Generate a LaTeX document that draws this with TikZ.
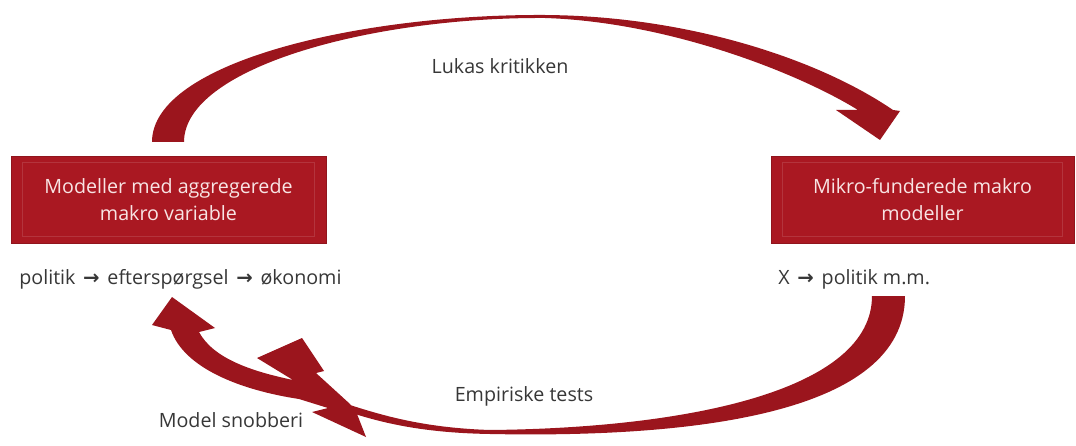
\documentclass[tikz,border=0pt]{standalone}
\usepackage{fontspec}
\usepackage{xcolor}
\usepackage{tikz}
\usetikzlibrary{calc}

\setmainfont{Open Sans}
\newfontfamily\arrowfont{DejaVu Sans}
\newcommand{\pil}{\hspace{1.5pt}{\arrowfont\bfseries →}\hspace{1.5pt}}

\definecolor{boxred}{RGB}{170,24,34}
\definecolor{arrowred}{RGB}{155,21,29}
\definecolor{boxtext}{RGB}{248,228,228}
\definecolor{labeltext}{RGB}{55,55,55}

\begin{document}
\begin{tikzpicture}[x=0.02cm,y=-0.02cm,
    modelbox/.style={fill=boxred, draw=boxred!85!black, line width=0.4pt,
        minimum height=1.74cm, align=center, text=boxtext, inner sep=0pt,
        font=\fontsize{11.2}{15.4}\selectfont},
    innerframe/.style={draw=boxred!88!white, line width=0.5pt},
    remark/.style={text=labeltext, inner sep=0pt, font=\fontsize{11.2}{15.4}\selectfont},
    ribbon/.style={fill=arrowred, draw=none}]

        \useasboundingbox (0,0) rectangle (1076,446);

        % Draw boxes
        \node[modelbox, minimum width=6.3cm] (macro) at (168.5,199.5)
            {Modeller med aggregerede\\makro variable};
        \node[modelbox, minimum width=6.06cm] (micro) at (922.5,199.5)
            {Mikro-funderede makro\\modeller};
        \foreach \b in {macro,micro} {
            \draw[innerframe] ($(\b.north west)+(12,7)$) rectangle ($(\b.south east)+(-12,-7)$);
        }

        % Draw labels
        \node[remark, anchor=west] (macrochain) at (19,279)
            {politik \pil{} efterspørgsel \pil{} økonomi};
        \node[remark, anchor=west] (microchain) at (778,279)
            {X \pil{} politik m.m.};
        \node[remark] (lucas) at (500,66) {Lukas kritikken};
        \node[remark] (tests) at (524,396) {Empiriske tests};
        \node[remark] (snob) at (231,420) {Model snobberi};

        % Draw top arrow
        \fill[ribbon] (152,142) .. controls (152,62) and (360,14) .. (545,15)
            .. controls (690,16) and (820,60) .. (893,110)
            -- (900,111) -- (880,140) -- (836,110) -- (858,110)
            .. controls (800,74) and (670,22) .. (545,18)
            .. controls (370,17) and (184,68) .. (184,142) -- cycle;

        % Draw bottom arrow, broken by the bolt
        \fill[ribbon] (872,296) -- (905,296)
            .. controls (905,415) and (690,438) .. (490,434)
            .. controls (430,433) and (390,425) .. (355,414) -- (350,405)
            .. controls (390,418) and (430,428) .. (490,430)
            .. controls (690,428) and (872,390) .. (872,296) -- cycle;
        \fill[ribbon] (172,297) -- (215,328) -- (199,332)
            .. controls (213,358) and (250,371) .. (293,380)
            -- (257,358) -- (302,338) -- (324,371) -- (316,373) -- (350,404)
            -- (357,414) -- (366,437) -- (312,412) -- (328,408)
            -- (299,399) .. controls (240,390) and (184,368) .. (171,330)
            -- (152,325) -- cycle;

    \end{tikzpicture}
\end{document}
